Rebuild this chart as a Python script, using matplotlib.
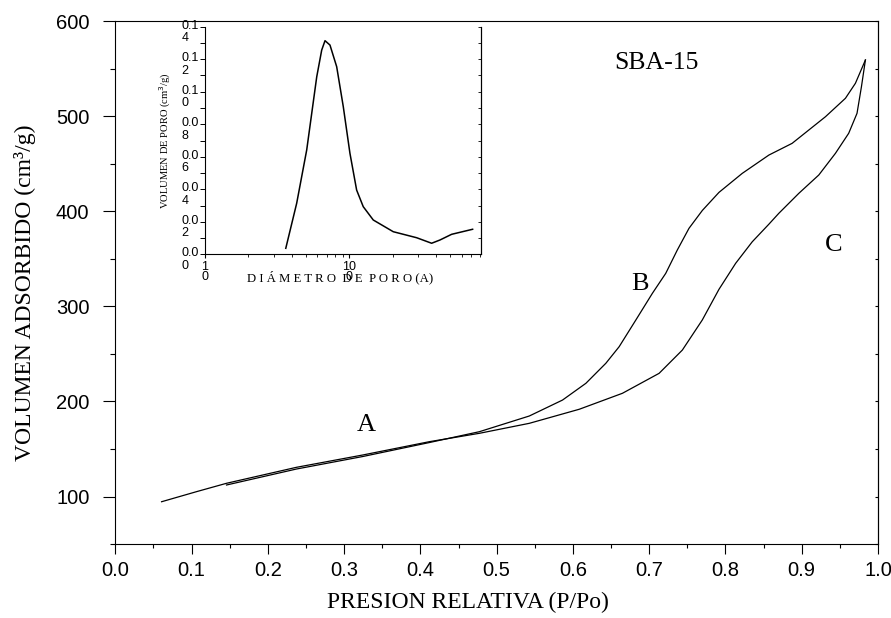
import numpy as np
import matplotlib.pyplot as plt
from matplotlib.ticker import MultipleLocator, FixedLocator, NullFormatter, FormatStrFormatter

# isoterma de adsorcion (rama inferior a la derecha)
ads_p = [0.0607, 0.1065, 0.1458, 0.2374, 0.3246, 0.4119, 0.4774, 0.5428, 0.6083, 0.6649,
         0.7130, 0.7435, 0.7696, 0.7915, 0.8134, 0.8351, 0.8569, 0.8700, 0.8962, 0.9224,
         0.9442, 0.9616, 0.9725, 0.9783, 0.9835]
ads_v = [94.5, 105.1, 113.9, 130.7, 143.7, 157.7, 166.5, 177.0, 191.8, 208.6,
         229.6, 254.1, 285.7, 318.0, 345.4, 368.0, 386.5, 398.0, 419.0, 438.3,
         461.1, 482.2, 503.2, 531.2, 559.3]

# rama de desorcion (superior)
des_p = [0.1458, 0.2374, 0.3246, 0.4119, 0.4774, 0.5428, 0.5864, 0.6170, 0.6432, 0.6606,
         0.6825, 0.7042, 0.7217, 0.7369, 0.7522, 0.7697, 0.7915, 0.8220, 0.8570, 0.8874,
         0.9311, 0.9573, 0.9704, 0.9835]
des_v = [112.1, 128.9, 142.1, 156.8, 168.2, 184.7, 201.5, 219.1, 240.2, 257.6,
         285.7, 313.8, 334.8, 359.4, 382.2, 401.0, 420.0, 440.0, 459.3, 471.6,
         499.6, 519.0, 534.8, 559.3]

# distribucion de poro (inset)
poro_d = [36.3, 43.2, 50.7, 59.5, 64.4, 67.9, 73.5, 81.8, 90.9, 101.1, 112.5, 125.0,
          146.7, 201.8, 293.2, 372.4, 425.3, 512.5, 716.4]
poro_v = [0.0037, 0.0314, 0.0642, 0.1092, 0.1256, 0.1314, 0.1287, 0.1154, 0.0908, 0.0621,
          0.0395, 0.0293, 0.0211, 0.0139, 0.0102, 0.0068, 0.0088, 0.0123, 0.0154]

in_yticks = [0.0, 0.02, 0.04, 0.06, 0.08, 0.10, 0.12, 0.14]
in_ylabels = ['0.0\n0', '0.0\n2', '0.0\n4', '0.0\n6', '0.0\n8', '0.1\n0', '0.1\n2', '0.1\n4']
in_xticks = [10, 100]
in_xlabels = ['1\n0', '10\n0']

serif = 'Liberation Serif'
sans = 'Liberation Sans'

fig = plt.figure(figsize=(8.91, 6.18), dpi=100)
ax = fig.add_axes([0.1294, 0.1197, 0.8560, 0.8458])

ax.plot(ads_p, ads_v, color='black', lw=0.9)
ax.plot(des_p, des_v, color='black', lw=0.9)

ax.set_xlim(0, 1.0)
ax.set_ylim(50, 600)
ax.xaxis.set_major_locator(MultipleLocator(0.1))
ax.xaxis.set_minor_locator(MultipleLocator(0.05))
ax.xaxis.set_major_formatter(FormatStrFormatter('%.1f'))
ax.yaxis.set_major_locator(FixedLocator([100, 200, 300, 400, 500, 600]))
ax.yaxis.set_minor_locator(MultipleLocator(50))
ax.tick_params(axis='x', which='major', direction='out', length=7.2, width=0.8, pad=5,
               labelsize=14.5)
ax.tick_params(axis='x', which='minor', direction='out', length=3.1, width=0.8)
ax.tick_params(axis='y', which='major', direction='out', length=8.6, width=0.8, pad=10,
               labelsize=14.5)
ax.tick_params(axis='y', which='minor', direction='out', length=3.6, width=0.8)
for lbl in ax.get_xticklabels() + ax.get_yticklabels():
    lbl.set_family(sans)
for s in ax.spines.values():
    s.set_linewidth(0.8)

sec = ax.secondary_yaxis('right')
sec.yaxis.set_major_locator(MultipleLocator(50))
sec.yaxis.set_major_formatter(NullFormatter())
sec.tick_params(direction='in', length=2.5, width=0.8)
sec.spines['right'].set_linewidth(0.8)

ax.set_xlabel('PRESION RELATIVA (P/Po)', family=serif, fontsize=17)
ax.set_ylabel('VOLUMEN ADSORBIDO (cm³/g)', family=serif, fontsize=17)
ax.xaxis.set_label_coords(0.4625, -0.092)
ax.yaxis.set_label_coords(-0.1037, 0.48)

ax.text(0.709, 556, 'SBA-15', family=serif, fontsize=18.5, ha='center', va='center')
ax.text(0.329, 175, 'A', family=serif, fontsize=19, ha='center', va='center')
ax.text(0.6874, 324, 'B', family=serif, fontsize=19, ha='center', va='center')
ax.text(0.942, 365, 'C', family=serif, fontsize=19, ha='center', va='center')

# inset
axi = fig.add_axes([0.2301, 0.5885, 0.3094, 0.3683])
axi.plot(poro_d, poro_v, color='black', lw=1.1)
axi.set_xscale('log')
axi.set_xlim(10, 815)
axi.set_ylim(0, 0.14)
axi.spines['top'].set_visible(False)
for s in ['left', 'right', 'bottom']:
    axi.spines[s].set_linewidth(0.8)
axi.xaxis.set_major_locator(FixedLocator(in_xticks))
axi.xaxis.set_minor_locator(FixedLocator([20, 30, 40, 50, 60, 70, 80, 90,
                                          200, 300, 400, 500, 600, 700, 800]))
axi.xaxis.set_major_formatter(NullFormatter())
axi.xaxis.set_minor_formatter(NullFormatter())
axi.yaxis.set_major_locator(FixedLocator(in_yticks))
axi.yaxis.set_minor_locator(MultipleLocator(0.01))
axi.yaxis.set_major_formatter(NullFormatter())
axi.tick_params(axis='x', which='major', direction='out', length=3, width=0.8)
axi.tick_params(axis='x', which='minor', direction='out', length=2.2, width=0.6)
axi.tick_params(axis='y', which='both', direction='out', length=3.5, width=0.7)
seci = axi.secondary_yaxis('right')
seci.yaxis.set_major_locator(MultipleLocator(0.01))
seci.yaxis.set_major_formatter(NullFormatter())
seci.tick_params(direction='in', length=2.5, width=0.6)
seci.spines['right'].set_linewidth(0.8)

for v, lab in zip(in_yticks, in_ylabels):
    axi.annotate(lab, xy=(0, v), xycoords=('axes fraction', 'data'), xytext=(-16.8, 5),
                 textcoords='offset points', ha='left', va='top', fontsize=9,
                 family=sans, linespacing=1.05, multialignment='left')
for d, lab in zip(in_xticks, in_xlabels):
    axi.annotate(lab, xy=(d, 0), xycoords=('data', 'axes fraction'), xytext=(0, -4.5),
                 textcoords='offset points', ha='center', va='top', fontsize=9,
                 family=sans, linespacing=0.85)

axi.text(-0.145, 0.5, 'VOLUMEN DE PORO (cm$^3$/g)', transform=axi.transAxes,
         rotation=90, ha='center', va='center', family=serif, fontsize=7.6)
axi.text(0.49, -0.1, 'D I Á M E T R O  D E  P O R O (A)', transform=axi.transAxes,
         ha='center', va='center', family=serif, fontsize=9.2)

fig.savefig('out.png', dpi=100)
